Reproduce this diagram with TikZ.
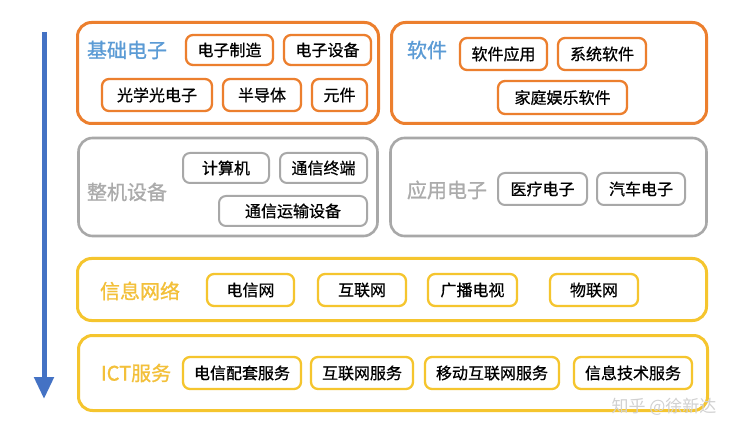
\documentclass[tikz,border=0pt]{standalone}
\usepackage{fontspec}
\setmainfont{Noto Sans CJK SC}
\newfontfamily\itmfont{Noto Sans CJK SC}[FakeBold=0.7]
\newfontfamily\ttlfont{Noto Sans CJK SC}[FakeBold=1.0]
\usetikzlibrary{arrows.meta}
\definecolor{orng}{HTML}{EC7F2E}
\definecolor{ttlblue}{HTML}{5B9BD5}
\definecolor{gryb}{HTML}{A8A8A8}
\definecolor{grytxt}{HTML}{ABABAB}
\definecolor{ylw}{HTML}{F5C52E}
\definecolor{ylwtxt}{HTML}{F3C03A}
\definecolor{arrblue}{HTML}{4472C4}
\tikzset{
  bigbox/.style={draw=#1, line width=3pt, rounded corners=14pt, inner sep=0pt},
  itembox/.style={draw=#1, line width=2.3pt, rounded corners=7pt, inner sep=0pt,
     font=\itmfont\fontsize{16}{16}\selectfont, text=black},
  ttl/.style={text=#1, inner sep=0pt, font=\ttlfont\fontsize{20}{20}\selectfont},
}
\begin{document}
\begin{tikzpicture}[x=1pt,y=-1pt]
\useasboundingbox[fill=white] (0,0) rectangle (754,435);
% arrow
\coordinate (arrtop) at (44,32);
\coordinate (arrtip) at (44,399);
\draw[arrblue, line width=5pt, -{Triangle[length=22pt,width=19pt]}] (arrtop) -- (arrtip);

% big boxes
\node[bigbox=orng, minimum width=301pt, minimum height=101pt] (b1) at (228,73) {};
\node[bigbox=orng, minimum width=315pt, minimum height=101pt] (b2) at (549,73) {};
\node[bigbox=gryb, line width=2.6pt, minimum width=299pt, minimum height=98pt] (b3) at (228,187) {};
\node[bigbox=gryb, line width=2.6pt, minimum width=316pt, minimum height=98pt] (b4) at (548.5,187) {};
\node[bigbox=ylw, minimum width=629pt, minimum height=62pt] (b5) at (392,289.5) {};
\node[bigbox=ylw, minimum width=629pt, minimum height=75pt] (b6) at (393,373) {};

% titles
\node[ttl=ttlblue] (t1) at (127,50) {基础电子};
\node[ttl=ttlblue] (t2) at (427,50) {软件};
\node[ttl=grytxt] (t3) at (127,192) {整机设备};
\node[ttl=grytxt] (t4) at (447,190) {应用电子};
\node[ttl=ylwtxt] (t5) at (140,291) {信息网络};
\node[ttl=ylwtxt] (t6) at (136,373) {ICT服务};

% box 1 items
\node[itembox=orng, minimum width=87pt, minimum height=30pt] (i11) at (229.5,50) {电子制造};
\node[itembox=orng, minimum width=87pt, minimum height=30pt] (i12) at (327.5,50) {电子设备};
\node[itembox=orng, minimum width=110pt, minimum height=32pt] (i13) at (157,95) {光学光电子};
\node[itembox=orng, minimum width=78pt, minimum height=32pt] (i14) at (262,95) {半导体};
\node[itembox=orng, minimum width=55pt, minimum height=32pt] (i15) at (339.5,95) {元件};

% box 2 items
\node[itembox=orng, minimum width=87pt, minimum height=32pt] (i21) at (503.5,54) {软件应用};
\node[itembox=orng, minimum width=88pt, minimum height=32pt] (i22) at (602,54) {系统软件};
\node[itembox=orng, minimum width=129pt, minimum height=33pt] (i23) at (562.5,97.5) {家庭娱乐软件};

% box 3 items
\node[itembox=gryb, line width=2pt, minimum width=86pt, minimum height=30pt] (i31) at (226,168) {计算机};
\node[itembox=gryb, line width=2pt, minimum width=87pt, minimum height=30pt] (i32) at (323.5,168) {通信终端};
\node[itembox=gryb, line width=2pt, minimum width=148pt, minimum height=30pt] (i33) at (293,211) {通信运输设备};

% box 4 items
\node[itembox=gryb, line width=2pt, minimum width=89pt, minimum height=32pt] (i41) at (542.5,189) {医疗电子};
\node[itembox=gryb, line width=2pt, minimum width=88pt, minimum height=32pt] (i42) at (641,189) {汽车电子};

% box 5 items
\node[itembox=ylw, minimum width=87pt, minimum height=32pt] (i51) at (250.5,290) {电信网};
\node[itembox=ylw, minimum width=88pt, minimum height=32pt] (i52) at (362,290) {互联网};
\node[itembox=ylw, minimum width=89pt, minimum height=32pt] (i53) at (472.5,290) {广播电视};
\node[itembox=ylw, minimum width=88pt, minimum height=32pt] (i54) at (594,290) {物联网};

% box 6 items
\node[itembox=ylw, minimum width=118pt, minimum height=32pt] (i61) at (242,373) {电信配套服务};
\node[itembox=ylw, minimum width=102pt, minimum height=32pt] (i62) at (362,373) {互联网服务};
\node[itembox=ylw, minimum width=134pt, minimum height=32pt] (i63) at (492,373) {移动互联网服务};
\node[itembox=ylw, minimum width=118pt, minimum height=32pt] (i64) at (633,373) {信息技术服务};

% watermark
\node[text=black!18, inner sep=0pt, font=\fontsize{17}{17}\selectfont] (wm) at (664,407) {知乎 @徐新达};
\end{tikzpicture}
\end{document}
